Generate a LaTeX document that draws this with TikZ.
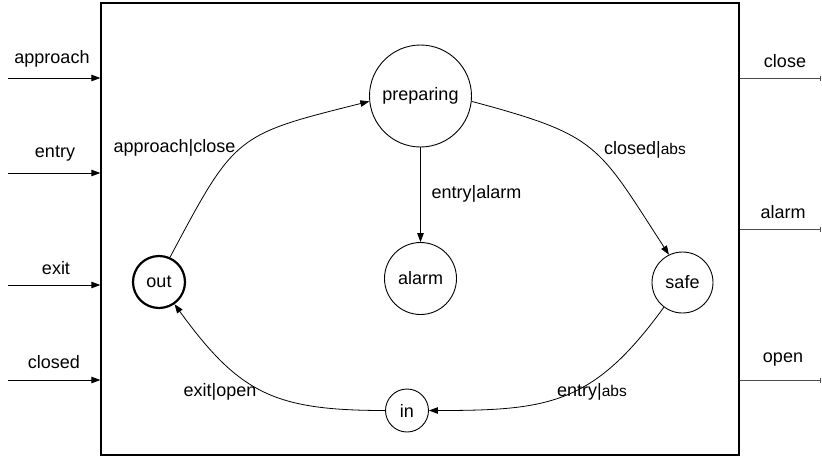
\documentclass[tikz,border=0pt]{standalone}
\usepackage{fontspec}
\setmainfont{Liberation Sans}
\usetikzlibrary{arrows.meta}
\newcommand\absword{{\fontsize{15.5}{18}\selectfont abs}}
\begin{document}
\begin{tikzpicture}[x=1pt,y=-1pt,
  every node/.style={font=\fontsize{18}{21}\selectfont},
  st/.style={draw, circle, inner sep=0pt, line width=0.9pt},
  tr/.style={-{Triangle[length=9pt,width=6.5pt]}, line width=0.8pt},
  lbl/.style={inner sep=0pt},
  outtick/.style={-{Bar[width=5pt,line width=0.8pt]}, line width=0.8pt, draw=black!70},
  sysbox/.style={draw, line width=1.3pt, inner sep=0pt, minimum width=638pt, minimum height=452pt}]
\useasboundingbox (0,0) rectangle (822,456);

\node[sysbox] (sys) at (420,229) {};

% states
\node[st, minimum size=102pt] (prep) at (420.5,96) {preparing};
\node[st, minimum size=72pt] (alarm) at (420.5,278.5) {alarm};
\node[st, minimum size=52pt, line width=2.2pt] (out) at (159,282) {out};
\node[st, minimum size=61pt] (safe) at (682.5,282.5) {safe};
\node[st, minimum size=43pt] (in) at (407,410.5) {in};

% transitions
\draw[tr] (out.66) to[out=62,in=194,looseness=1.4] (prep.186);
\draw[tr] (prep.-6) to[out=-15,in=123,looseness=1.35] (safe.116);
\draw[tr] (prep) -- (alarm);
\draw[tr] (safe.233) to[out=-126,in=0,looseness=1.2] (in.east);
\draw[tr] (in.west) to[out=180,in=-54,looseness=1.2] (out.-55);

% transition labels
\node[lbl] (l1) at (174.5,148) {approach|close};
\node[lbl] (l2) at (645,150) {closed|\absword};
\node[lbl] (l3) at (476.5,194) {entry|alarm};
\node[lbl] (l4) at (220,392) {exit|open};
\node[lbl] (l5) at (592,392) {entry|\absword};

% inputs
\coordinate (i1) at (8,78);
\coordinate (i2) at (8,173);
\coordinate (i3) at (8,285);
\coordinate (i4) at (8,380);
\draw[tr] (i1) -- (i1 -| sys.west);
\draw[tr] (i2) -- (i2 -| sys.west);
\draw[tr] (i3) -- (i3 -| sys.west);
\draw[tr] (i4) -- (i4 -| sys.west);
\node[lbl] (ti1) at (52,59) {approach};
\node[lbl] (ti2) at (55,154) {entry};
\node[lbl] (ti3) at (56,268) {exit};
\node[lbl] (ti4) at (54,362) {closed};

% outputs
\coordinate (o1) at (821,78);
\coordinate (o2) at (821,229);
\coordinate (o3) at (821,380);
\draw[outtick] (o1 -| sys.east) -- (o1);
\draw[outtick] (o2 -| sys.east) -- (o2);
\draw[outtick] (o3 -| sys.east) -- (o3);
\node[lbl] (to1) at (785,61) {close};
\node[lbl] (to2) at (783,212) {alarm};
\node[lbl] (to3) at (783,360) {open};
\end{tikzpicture}
\end{document}
